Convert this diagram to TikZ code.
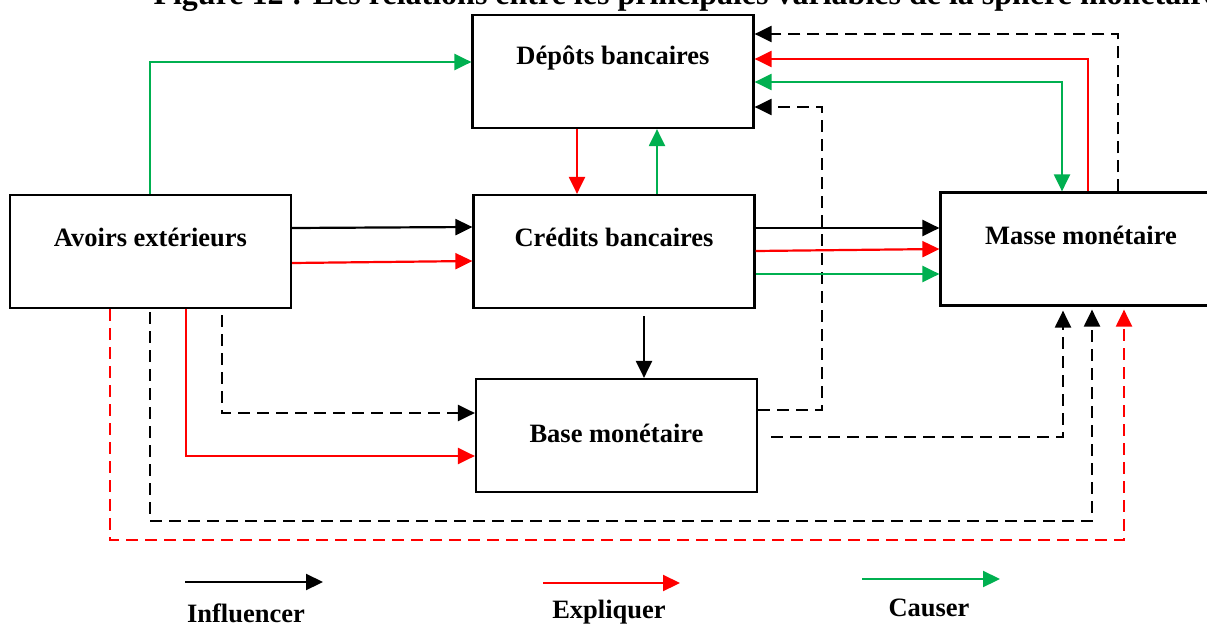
\documentclass[tikz,border=0pt]{standalone}
\usepackage{fontspec}
\setmainfont{Liberation Serif}
\usetikzlibrary{arrows.meta,positioning}
\definecolor{vert}{RGB}{0,176,80}
\definecolor{rouge}{RGB}{255,0,0}
\tikzset{
  boite/.style={draw, line width=2.2pt, minimum width=281pt, minimum height=113pt, inner sep=0pt},
  titre/.style={font=\bfseries\fontsize{26.5}{30}\selectfont},
  fl/.style={line width=2.2pt, -{Triangle[length=17pt,width=16pt]}},
  tir/.style={dash pattern=on 12pt off 7pt},
}

\begin{document}
\begin{tikzpicture}[x=1pt,y=-1pt]
  \useasboundingbox (0,0) rectangle (1207,626);
  \node[font=\bfseries\fontsize{32}{36}\selectfont, anchor=base west] (fig) at (150,5) {Figure 12 : Les relations entre les principales variables de la sphère monétaire};

  % les cinq variables
  \node[boite, label={[titre,yshift=14pt]center:Dépôts bancaires}] (depots) at (613,71.5) {};
  \node[boite, label={[titre,yshift=14pt]center:Avoirs extérieurs}] (avoirs) at (150.5,251.5) {};
  \node[boite, label={[titre,yshift=14pt]center:Crédits bancaires}] (credits) at (614,251.5) {};
  \node[boite, label={[titre,yshift=14pt]center:Masse monétaire}] (masse) at (1081,249) {};
  \node[boite, label={[titre,yshift=2pt]center:Base monétaire}] (base) at (616.5,435.5) {};

  % vers les depots
  \draw[fl,vert] (avoirs.north -| 150,0) |- (depots.west |- 0,62);
  \draw[fl,tir] (masse.north -| 1118,0) |- (depots.east |- 0,34);
  \draw[fl,rouge] (masse.north -| 1088,0) |- (depots.east |- 0,59);
  \draw[fl,vert,{Triangle[length=17pt,width=16pt]}-{Triangle[length=17pt,width=16pt]}] (depots.east |- 0,82) -| (masse.north -| 1062,0);
  \draw[fl,tir] (base.east |- 0,410) -- (822,410) |- (depots.east |- 0,107);
  \draw[fl,vert] (credits.north -| 657,0) -- (depots.south -| 657,0);

  % vers les credits
  \draw[fl,rouge] (depots.south -| 577,0) -- (credits.north -| 577,0);
  \draw[fl] (avoirs.east |- 0,228) -- (credits.west |- 0,227);
  \draw[fl,rouge] (avoirs.east |- 0,263) -- (credits.west |- 0,261);

  % vers la masse monetaire
  \draw[fl] (credits.east |- 0,228) -- (masse.west |- 0,228);
  \draw[fl,rouge] (credits.east |- 0,251) -- (masse.west |- 0,249);
  \draw[fl,vert] (credits.east |- 0,274) -- (masse.west |- 0,274);
  \draw[fl,tir,shorten <=13pt,shorten >=4pt] (base.east |- 0,437) -| (masse.south -| 1063,0);
  \draw[fl,tir,shorten <=3pt,shorten >=3pt] (avoirs.south -| 150,0) -- (150,521) -| (masse.south -| 1092,0);
  \draw[fl,tir,rouge,shorten >=3pt] (avoirs.south -| 110,0) -- (110,540) -| (masse.south -| 1124,0);

  % vers la base monetaire
  \draw[fl,shorten <=7pt] (credits.south -| 644,0) -- (base.north -| 644,0);
  \draw[fl,tir,shorten <=6pt] (avoirs.south -| 222,0) |- (base.west |- 0,413);
  \draw[fl,rouge] (avoirs.south -| 186,0) |- (base.west |- 0,456);

  % legende
  \draw[fl] (185,582) -- (323,582);
  \node[titre] (infl) at (246,613) {Influencer};
  \draw[fl,rouge] (543,583) -- (680,583);
  \node[titre] (expl) at (609,612) {Expliquer};
  \draw[fl,vert] (862,579) -- (1000,579);
  \node[titre] (caus) at (929,608) {Causer};
\end{tikzpicture}
\end{document}
